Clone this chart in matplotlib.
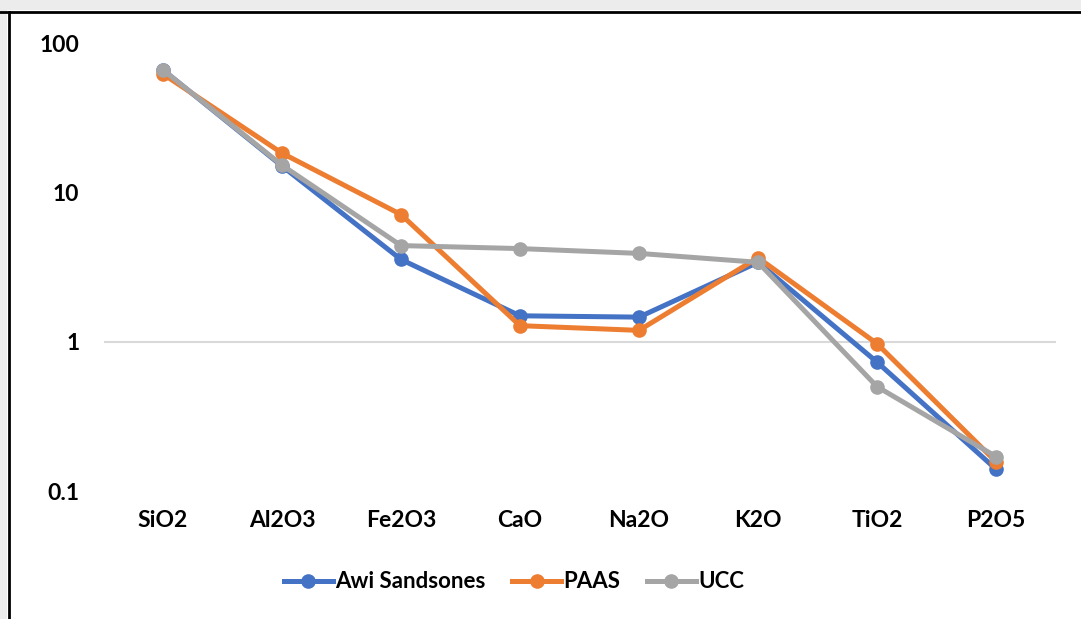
import numpy as np
import matplotlib
matplotlib.use("Agg")
import matplotlib.pyplot as plt
from matplotlib.patches import Rectangle
from matplotlib.lines import Line2D

oxides = ["SiO2", "Al2O3", "Fe2O3", "CaO", "Na2O", "K2O", "TiO2", "P2O5"]
awi = [66.0, 15.0, 3.55, 1.49, 1.46, 3.4, 0.73, 0.14]
paas = [62.0, 18.3, 7.1, 1.28, 1.19, 3.65, 0.97, 0.157]
ucc = [66.0, 15.2, 4.4, 4.2, 3.9, 3.4, 0.5, 0.17]
yticks = [0.1, 1, 10, 100]
ytick_labels = ["0.1", "1", "10", "100"]

plt.rcParams['font.family'] = ['Lato', 'DejaVu Sans']

fig = plt.figure(figsize=(10.81, 6.19), dpi=100)
fig.patch.set_facecolor("white")

# screenshot frame: gray strip + black border on top and left
fig.patches.append(Rectangle((0, 1 - 10/619), 1, 10/619, transform=fig.transFigure,
                             facecolor="#ececec", edgecolor="none", zorder=0))
fig.patches.append(Rectangle((0, 0), 7/1081, 1, transform=fig.transFigure,
                             facecolor="#ececec", edgecolor="none", zorder=0))
fig.lines.append(Line2D([0, 1], [1 - 11.5/619, 1 - 11.5/619], transform=fig.transFigure,
                        color="black", lw=2))
fig.lines.append(Line2D([8.5/1081, 8.5/1081], [0, 1 - 11.5/619], transform=fig.transFigure,
                        color="black", lw=2))

ax = fig.add_axes([103.5/1081, (619-491)/619, 952/1081, 448/619])
x = np.arange(len(oxides))

ax.axhline(1, color="#d9d9d9", lw=1.5, zorder=1)

style = dict(lw=3.6, marker="o", markersize=9.5, solid_joinstyle="round", zorder=3)
ax.plot(x, awi, color="#4472c4", label="Awi Sandsones", **style)
ax.plot(x, paas, color="#ed7d31", label="PAAS", **style)
ax.plot(x, ucc, color="#a5a5a5", label="UCC", **style)

ax.set_yscale("log")
ax.set_ylim(0.1, 100)
ax.set_xlim(-0.5, len(oxides) - 0.5)
ax.set_yticks(yticks)
ax.set_yticklabels(ytick_labels)
ax.minorticks_off()
ax.set_xticks(x)
ax.set_xticklabels(oxides)
ax.tick_params(axis="y", length=0, pad=17.5, labelsize=16.5)
ax.tick_params(axis="x", length=0, pad=14, labelsize=16.5)
for lbl in ax.get_xticklabels() + ax.get_yticklabels():
    lbl.set_fontweight("bold")
for s in ax.spines.values():
    s.set_visible(False)

leg = fig.legend(loc="center", bbox_to_anchor=(514/1081, 1 - 582/619), ncol=3,
                 frameon=False, prop={"weight": "bold", "size": 16},
                 handlelength=2.2, handletextpad=0.1, columnspacing=1.2)

fig.savefig("out.png", dpi=100)
